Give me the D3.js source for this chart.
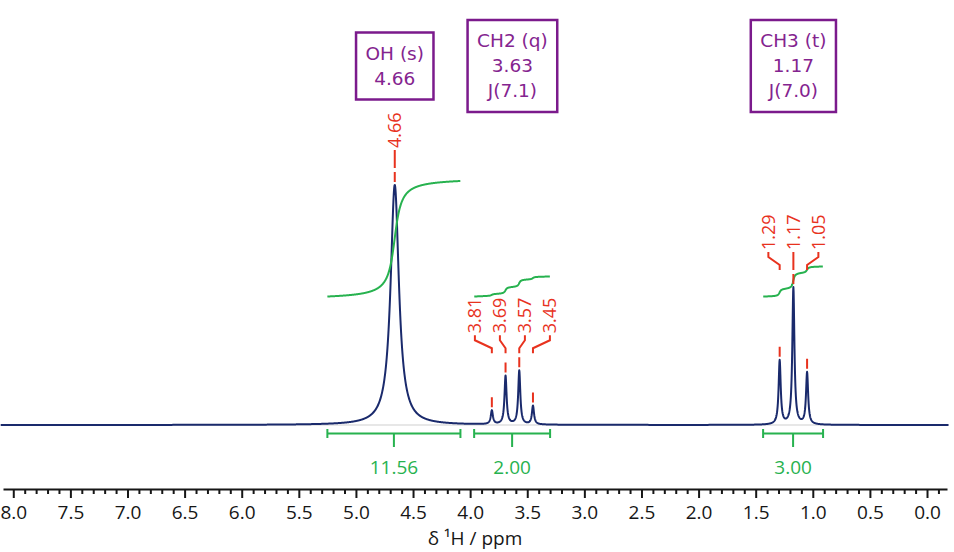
<!DOCTYPE html>
<html>
<head>
<meta charset="utf-8">
<script src="https://d3js.org/d3.v7.min.js"></script>
<style>
  body { margin: 0; background: #fff; }
  svg { display: block; }
  .axis text { font-family: "Open Sans", sans-serif; font-size: 19px; fill: #161616; }
  .axis path, .axis line { stroke: #161616; stroke-width: 2px; }
  .baseline { stroke: #cfcfcf; stroke-width: 1px; }
  .spectrum { fill: none; stroke: #1a2a6c; stroke-width: 2px; stroke-linejoin: round; }
  .integral { fill: none; stroke: #27b24f; stroke-width: 2px; }
  .bracket { fill: none; stroke: #27b24f; stroke-width: 2px; }
  .int_label { font-family: "Open Sans", sans-serif; font-size: 19px; fill: #27b24f; text-anchor: middle; }
  .peak_label { font-family: "Open Sans", sans-serif; font-size: 18px; fill: #e8321e; }
  .leader { fill: none; stroke: #e8321e; stroke-width: 2px; }
  .box rect { fill: #fff; stroke: #7b1a8c; stroke-width: 2.5px; }
  .box text { font-family: "DejaVu Sans", sans-serif; font-size: 18.5px; fill: #84248f; text-anchor: middle; }
  .title { font-family: "Open Sans", sans-serif; font-size: 19px; fill: #161616; text-anchor: middle; }
</style>
</head>
<body>
<script>
// peaks: shift (ppm), relative height, half width (ppm)
var peakPpm    = [4.66, 3.81, 3.69, 3.57, 3.45, 1.29, 1.17, 1.05];
var peakHeight = [100, 5.7, 20.2, 22.4, 7.75, 26.6, 57.1, 21.6];
var peakWidth  = [0.044, 0.011, 0.011, 0.011, 0.011, 0.011, 0.011, 0.011];
var peakGroup  = [0, 1, 1, 1, 1, 2, 2, 2];

// multiplet annotations
var groupPpm   = [4.66, 3.63, 1.17];
var groupLines = [["OH (s)", "4.66"],
                  ["CH2 (q)", "3.63", "J(7.1)"],
                  ["CH3 (t)", "1.17", "J(7.0)"]];

// integrals
var integralFrom  = [5.25, 3.965, 1.435];
var integralTo    = [4.085, 3.30, 0.91];
var integralValue = [11.56, 2.00, 3.00];

// axis ticks
var majorTicks = [8.0, 7.5, 7.0, 6.5, 6.0, 5.5, 5.0, 4.5, 4.0, 3.5, 3.0, 2.5, 2.0, 1.5, 1.0, 0.5, 0.0];
var tickLabels = ["8.0", "7.5", "7.0", "6.5", "6.0", "5.5", "5.0", "4.5", "4.0", "3.5", "3.0", "2.5", "2.0", "1.5", "1.0", "0.5", "0.0"];

var width = 954, height = 552;

var svg = d3.select("body").append("svg")
    .attr("width", width)
    .attr("height", height);

var x = d3.scaleLinear().domain([8.09, -0.175]).range([3, 947]);
var y = d3.scaleLinear().domain([0, 100]).range([425, 185]);
var yInt = d3.scaleLinear().domain([0, 11.56]).range([296.5, 181]);

function spec(p) {
  var s = 0;
  for (var i = 0; i < peakPpm.length; i++) {
    var g = peakWidth[i], d = p - peakPpm[i];
    s += peakHeight[i] * g * g / (d * d + g * g);
  }
  return s;
}

var ppmGrid = d3.range(8.11, -0.19, -0.002);

// light baseline
svg.append("line")
    .attr("class", "baseline")
    .attr("x1", x(8.11)).attr("x2", x(-0.19))
    .attr("y1", y(0)).attr("y2", y(0));

// spectrum
var specLine = d3.line()
    .x(function(p) { return x(p); })
    .y(function(p) { return y(spec(p)); });

svg.append("path")
    .attr("class", "spectrum")
    .attr("d", specLine(ppmGrid));

// integral curves
integralValue.forEach(function(v, k) {
  var pts = ppmGrid.filter(function(p) { return p <= integralFrom[k] && p >= integralTo[k]; });
  var cum = [0];
  for (var i = 1; i < pts.length; i++) cum.push(cum[i - 1] + spec(pts[i]));
  var total = cum[cum.length - 1];
  var line = d3.line()
      .x(function(p) { return x(p); })
      .y(function(p, i) { return yInt(cum[i] / total * v); });
  svg.append("path").attr("class", "integral").attr("d", line(pts));

  // bracket under the baseline
  var x0 = x(integralFrom[k]), x1 = x(integralTo[k]), xm = (x0 + x1) / 2, yb = 433.5;
  svg.append("path").attr("class", "bracket")
      .attr("d", "M" + x0 + "," + (yb - 4.5) + "V" + (yb + 4.5) +
                 "M" + x0 + "," + yb + "H" + x1 +
                 "M" + x1 + "," + (yb - 4.5) + "V" + (yb + 4.5) +
                 "M" + xm + "," + yb + "V" + (yb + 13.5));
  svg.append("text").attr("class", "int_label")
      .attr("x", xm).attr("y", 474)
      .text(v.toFixed(2));
});

// peak labels with leaders
groupPpm.forEach(function(c, gi) {
  var idx = d3.range(peakPpm.length).filter(function(i) { return peakGroup[i] === gi; });
  var maxTop = d3.min(idx, function(i) { return y(spec(peakPpm[i])); });
  var bottom = maxTop - 37;
  idx.forEach(function(i, j) {
    var px = x(peakPpm[i]);
    var lx = x(c) + (j - (idx.length - 1) / 2) * 25;
    var top = y(spec(peakPpm[i]));
    svg.append("text").attr("class", "peak_label")
        .attr("transform", "translate(" + lx + "," + bottom + ") rotate(-90)")
        .attr("dy", "0.35em")
        .text(peakPpm[i].toFixed(2));
    svg.append("path").attr("class", "leader")
        .attr("d", "M" + lx + "," + (bottom + 2) + "V" + (bottom + 7) +
                   "L" + px + "," + (bottom + 15) + "V" + (bottom + 20) +
                   "M" + px + "," + (top - 13) + "V" + (top - 3));
  });
});

// multiplet boxes
groupLines.forEach(function(lines, gi) {
  var g = svg.append("g").attr("class", "box");
  var cx = x(groupPpm[gi]), cy = 66, lh = 25;
  var rect = g.append("rect");
  var texts = g.selectAll("text").data(lines).enter().append("text")
      .attr("x", cx)
      .attr("y", function(d, j) { return cy + (j - (lines.length - 1) / 2) * lh; })
      .attr("dy", "0.35em")
      .text(function(d) { return d; });
  var w = 0;
  texts.each(function() { w = Math.max(w, this.getComputedTextLength()); });
  var bw = w + 19, bh = lines.length * lh + 17;
  rect.attr("x", cx - bw / 2).attr("y", cy - bh / 2)
      .attr("width", bw).attr("height", bh);
});

// axis
var majorAxis = d3.axisBottom(x)
    .tickValues(majorTicks)
    .tickFormat(function(d, i) { return tickLabels[i]; })
    .tickSize(9)
    .tickSizeOuter(0)
    .tickPadding(8);

var minorAxis = d3.axisBottom(x)
    .tickValues(d3.range(79, -2, -1).map(function(d) { return d / 10; })
      .filter(function(d) { return majorTicks.indexOf(d) < 0; }))
    .tickFormat("")
    .tickSize(5);

svg.append("g").attr("class", "axis")
    .attr("transform", "translate(0,489)")
    .call(minorAxis)
    .select(".domain").remove();

svg.append("g").attr("class", "axis")
    .attr("transform", "translate(0,489)")
    .call(majorAxis);

svg.append("text").attr("class", "title")
    .attr("x", 475).attr("y", 545)
    .text("δ ¹H / ppm");
</script>
</body>
</html>
